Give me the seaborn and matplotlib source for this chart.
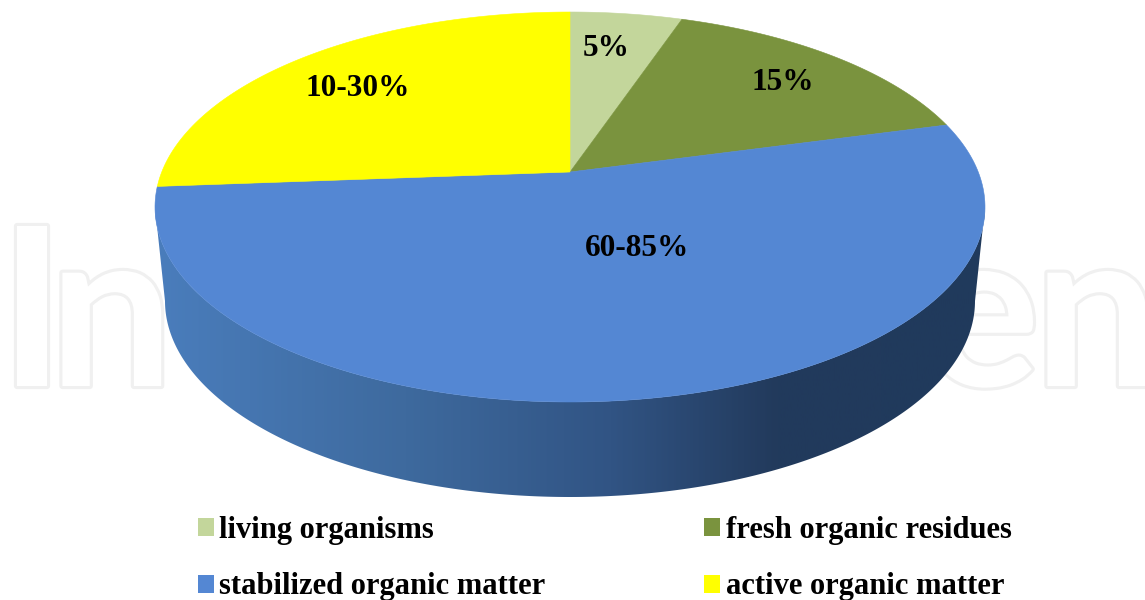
import numpy as np
import matplotlib
matplotlib.use("Agg")
import matplotlib.pyplot as plt
import matplotlib.patheffects as pe
from matplotlib.colors import LinearSegmentedColormap
from matplotlib.patches import Patch, Polygon, Rectangle
import seaborn as sns

categories = ["living organisms", "fresh organic residues", "stabilized organic matter", "active organic matter"]
shares = [5.2, 15.6, 53, 26.2]
slice_labels = ["5%", "15%", "60-85%", "10-30%"]
colors = ["#c3d69b", "#7a933e", "#5487d3", "#ffff00"]
label_xy = [(606, 49), (783, 82), (637, 248), (358, 88)]

sns.set_theme(style="white")
plt.rcParams["font.family"] = ["Liberation Serif", "DejaVu Serif"]

fig = plt.figure(figsize=(11.45, 6.0), dpi=100)
ax = fig.add_axes([0, 0, 1, 1])
ax.set_xlim(0, 1145)
ax.set_ylim(600, 0)
ax.axis("off")

# watermark, hidden behind the pie
wm = dict(family="Lato", fontsize=159, fontweight="bold", color="white", va="baseline", zorder=1,
          path_effects=[pe.withStroke(linewidth=4.5, foreground="#f0f0f0")])
ax.text(-1, 386, "I", ha="left", **wm)
left_n = ax.text(49, 386, "n", ha="left", **wm)
left_n.set_clip_path(Rectangle((0, 0), 150, 600, transform=ax.transData))
right_e = ax.text(1040, 386, "e", ha="right", **wm)
right_e.set_clip_path(Rectangle((1014, 0), 40, 600, transform=ax.transData))
ax.text(1034, 386, "n", ha="left", **wm)

CX, CY, A, B = 570, 207, 415, 195
TILT = 35 / 195
BCY, BA, BB = 301, 405, 196


def project(theta):
    """Unit-circle angle (clockwise from top) to the tilted top face."""
    x, y = np.sin(theta), np.cos(theta)
    d = 1 + TILT * y
    return CX + A * x * np.sqrt(1 - TILT ** 2) / d, CY - B * (y + TILT) / d


# side wall
t = np.linspace(0, np.pi, 300)
side = np.vstack([
    [[CX - A, CY]],
    np.column_stack([CX - BA * np.cos(t), BCY + BB * np.sin(t)]),
    [[CX + A, CY]],
    np.column_stack([CX + A * np.cos(t), CY + B * np.sin(t)]),
])
cmap = LinearSegmentedColormap.from_list(
    "wall", [(0, "#4a7dbc"), (0.3, "#3e6a9e"), (0.55, "#315484"), (0.75, "#223a5c"), (1, "#203a5c")])
im = ax.imshow(np.linspace(0, 1, 400)[None, :], cmap=cmap, extent=(155, 985, 600, 0),
               aspect="auto", zorder=2)
ax.set_xlim(0, 1145)
ax.set_ylim(600, 0)
im.set_clip_path(Polygon(side, transform=ax.transData))

# top face
edges = np.cumsum([0] + shares) / sum(shares) * 2 * np.pi
for start, stop, color in zip(edges[:-1], edges[1:], colors):
    th = np.linspace(start, stop, 200)
    px, py = project(th)
    ax.fill(np.r_[CX, px], np.r_[CY - B * TILT, py], facecolor=color, edgecolor=color, lw=0.4, zorder=3)

for text, (x, y) in zip(slice_labels, label_xy):
    ax.text(x, y, text, ha="center", va="center", fontsize=22.5, fontweight="bold", color="black", zorder=4)

order = [0, 2, 1, 3]
handles = [Patch(facecolor=colors[i], edgecolor="none", label=categories[i]) for i in order]
ax.legend(handles=handles, ncol=2, frameon=False, loc="lower left", bbox_to_anchor=(190 / 1145, -9 / 600),
          bbox_transform=ax.transAxes, borderaxespad=0, borderpad=0.25, labelcolor="black",
          prop=dict(family="Liberation Serif", weight="bold", size=22),
          handlelength=0.53, handleheight=0.53, handletextpad=0.17, columnspacing=5.2, labelspacing=0.905)

fig.savefig("out.png", dpi=100)
